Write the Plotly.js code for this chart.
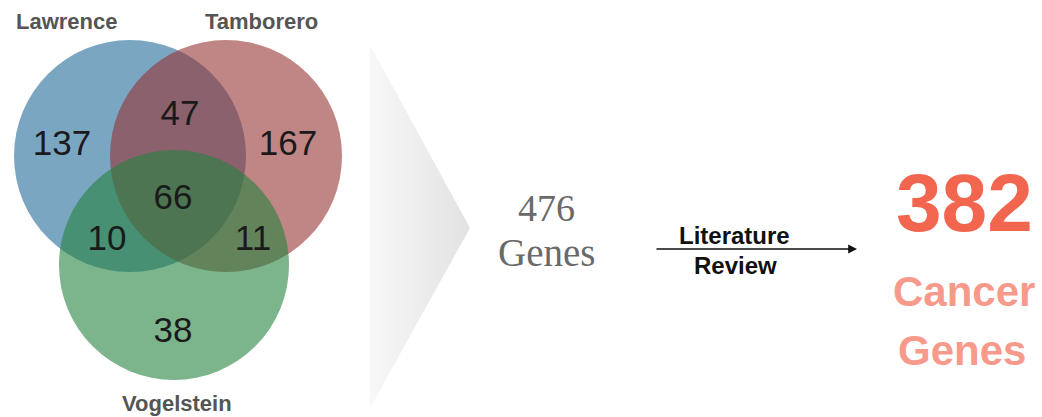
<!DOCTYPE html>
<html>
<head>
<meta charset="utf-8">
<script src="https://cdn.plot.ly/plotly-3.0.1.min.js"></script>
<style>
html,body{margin:0;padding:0;background:#fff;}
#chart{width:1042px;height:417px;}
</style>
</head>
<body>
<div id="chart"></div>
<script>
// ---- data ----
const setNames = ['Lawrence', 'Tamborero', 'Vogelstein'];
const regionNames = ['Lawrence only', 'Tamborero only', 'Vogelstein only',
  'Lawrence ∩ Tamborero', 'Lawrence ∩ Vogelstein', 'Tamborero ∩ Vogelstein', 'All three'];
const regionCounts = [137, 167, 38, 47, 10, 11, 66];
const unionGenes = 476;
const cancerGenes = 382;
const stepLabel = ['Literature', 'Review'];

// ---- layout (positions in page pixels) ----
const circleGeom = [
  {cx: 130, cy: 156, r: 116, color: 'rgb(35,107,153)'},
  {cx: 226, cy: 156, r: 116, color: 'rgb(150,52,52)'},
  {cx: 174, cy: 265, r: 115, color: 'rgb(37,130,63)'}
];
const setLabelPos = [[67, 21], [261, 21], [177, 403]];
const regionPos = [[62, 146], [288, 146], [173, 333], [180, 116], [107, 241], [253, 241], [173, 200]];

const shapes = circleGeom.map(c => ({
  type: 'circle', xref: 'x', yref: 'y',
  x0: c.cx - c.r, x1: c.cx + c.r, y0: c.cy - c.r, y1: c.cy + c.r,
  fillcolor: c.color, opacity: 0.6, line: {width: 0}, layer: 'below'
}));

const traces = [
  {
    type: 'scatter', mode: 'lines', x: [370, 470, 370, 370], y: [45, 228, 408, 45],
    fill: 'toself', line: {width: 0, color: 'rgba(0,0,0,0)'},
    fillgradient: {type: 'horizontal', start: 370, stop: 470,
      colorscale: [[0, '#f8f8f8'], [1, '#e2e2e2']]},
    hoverinfo: 'skip', showlegend: false
  },
  {
    type: 'scatter', mode: 'text',
    x: regionPos.map(p => p[0]), y: regionPos.map(p => p[1]),
    text: regionCounts.map(String), customdata: regionNames,
    textfont: {family: 'Liberation Sans, Arial, sans-serif', size: 35, color: '#1a1a1a'},
    textposition: 'middle center', hoverinfo: 'skip', showlegend: false
  }
];

const annotations = [];
setNames.forEach((n, i) => annotations.push({
  x: setLabelPos[i][0], y: setLabelPos[i][1], xref: 'x', yref: 'y', text: n,
  showarrow: false, font: {family: 'Liberation Sans, Arial, sans-serif', size: 22, color: '#555555', weight: 'bold'}
}));
annotations.push(
  {x: 546, y: 208, xref: 'x', yref: 'y', text: String(unionGenes), showarrow: false,
   font: {family: 'Liberation Serif, serif', size: 38, color: '#6a6a6a'}},
  {x: 546, y: 252, xref: 'x', yref: 'y', text: 'Genes', showarrow: false,
   font: {family: 'Liberation Serif, serif', size: 39, color: '#6a6a6a'}},
  {x: 857, y: 249, ax: 655, ay: 249, xref: 'x', yref: 'y', axref: 'x', ayref: 'y',
   text: '', showarrow: true, arrowhead: 2, arrowsize: 1.1, arrowwidth: 1.6, arrowcolor: '#111'},
  {x: 734, y: 235, xref: 'x', yref: 'y', text: stepLabel[0], showarrow: false,
   font: {family: 'Liberation Sans, Arial, sans-serif', size: 24, color: '#111', weight: 'bold'}},
  {x: 735, y: 265, xref: 'x', yref: 'y', text: stepLabel[1], showarrow: false,
   font: {family: 'Liberation Sans, Arial, sans-serif', size: 24, color: '#111', weight: 'bold'}},
  {x: 964, y: 202, xref: 'x', yref: 'y', text: String(cancerGenes), showarrow: false,
   font: {family: 'Liberation Sans, Arial, sans-serif', size: 82, color: '#f2654f', weight: 'bold'}},
  {x: 964, y: 291, xref: 'x', yref: 'y', text: 'Cancer', showarrow: false,
   font: {family: 'Liberation Sans, Arial, sans-serif', size: 42, color: '#f79a8b', weight: 'bold'}},
  {x: 962, y: 350, xref: 'x', yref: 'y', text: 'Genes', showarrow: false,
   font: {family: 'Liberation Sans, Arial, sans-serif', size: 42, color: '#f79a8b', weight: 'bold'}}
);

const layout = {
  width: 1042, height: 417, margin: {l: 0, r: 0, t: 0, b: 0},
  paper_bgcolor: '#fff', plot_bgcolor: 'rgba(0,0,0,0)',
  xaxis: {range: [0, 1042], visible: false, fixedrange: true},
  yaxis: {range: [417, 0], visible: false, fixedrange: true},
  shapes: shapes, annotations: annotations, showlegend: false
};

Plotly.newPlot('chart', traces, layout, {staticPlot: true, displayModeBar: false});
</script>
</body>
</html>
